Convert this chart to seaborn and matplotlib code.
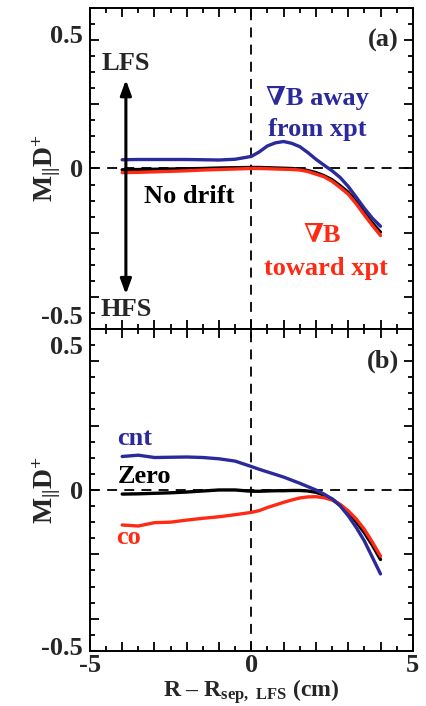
import numpy as np
import pandas as pd
import matplotlib
matplotlib.use("Agg")
import matplotlib.pyplot as plt
import matplotlib.transforms as mtransforms
import seaborn as sns
from matplotlib.ticker import MultipleLocator, FixedLocator, FixedFormatter

# ---------------- data ----------------
x_grid = [-4, -3.5, -3, -2.5, -2, -1.5, -1, -0.5, 0, 0.25, 0.5, 0.75, 1, 1.25, 1.5,
          1.75, 2, 2.25, 2.5, 2.75, 3, 3.25, 3.5, 3.75, 4]

# panel (a)
a_away = [0.034, 0.035, 0.035, 0.035, 0.035, 0.034, 0.033, 0.036, 0.047, 0.065, 0.088,
          0.1, 0.105, 0.098, 0.085, 0.062, 0.036, 0.013, -0.009, -0.035, -0.07, -0.112,
          -0.155, -0.194, -0.225]
a_nodrift = [-0.005, -0.004, -0.003, -0.002, -0.001, 0.0, 0.002, 0.003, 0.004, 0.004,
             0.003, 0.002, 0.001, 0.0, -0.003, -0.008, -0.016, -0.028, -0.044, -0.067,
             -0.093, -0.129, -0.173, -0.213, -0.248]
a_toward = [-0.016, -0.015, -0.013, -0.011, -0.009, -0.006, -0.004, -0.002, 0.0, 0.0,
            -0.001, -0.002, -0.003, -0.004, -0.006, -0.012, -0.022, -0.032, -0.05,
            -0.074, -0.1, -0.138, -0.181, -0.222, -0.261]

# panel (b)
b_cnt = [0.13, 0.135, 0.126, 0.127, 0.128, 0.126, 0.121, 0.112, 0.091, 0.08, 0.07,
         0.06, 0.05, 0.038, 0.026, 0.013, 0.0, -0.016, -0.035, -0.062, -0.1, -0.146,
         -0.198, -0.262, -0.326]
b_zero = [-0.016, -0.015, -0.013, -0.011, -0.008, -0.004, 0.0, 0.0, -0.005, -0.005,
          -0.004, -0.003, -0.003, -0.002, -0.002, -0.004, -0.009, -0.02, -0.035, -0.058,
          -0.087, -0.124, -0.166, -0.215, -0.27]
b_co = [-0.136, -0.14, -0.127, -0.125, -0.117, -0.11, -0.104, -0.096, -0.087, -0.08,
        -0.068, -0.058, -0.048, -0.039, -0.031, -0.027, -0.026, -0.03, -0.039, -0.056,
        -0.081, -0.113, -0.153, -0.203, -0.257]

y_ticks = [-0.5, -0.25, 0, 0.25, 0.5]
y_ticklabels = ["-0.5", "", "0", "", "0.5"]
x_ticks = [-5, -4, -3, -2, -1, 0, 1, 2, 3, 4, 5]
x_ticklabels = ["-5", "", "", "", "", "0", "", "", "", "", "5"]

BLUE = "#2b2a9c"
RED = "#ff2a14"
BLACK = "#000000"

# ---------------- style ----------------
sns.set_style("ticks")
plt.rcParams["font.family"] = ["Liberation Serif", "DejaVu Serif"]
plt.rcParams["font.weight"] = "bold"
plt.rcParams["mathtext.fontset"] = "custom"
plt.rcParams["mathtext.rm"] = "Liberation Serif:bold"
plt.rcParams["mathtext.bf"] = "Liberation Serif:bold"
plt.rcParams["mathtext.it"] = "Liberation Serif:bold"
plt.rcParams["mathtext.default"] = "bf"

FS = 19

fig = plt.figure(figsize=(4.26, 7.06), dpi=100)
ax1 = fig.add_axes([0.211, 0.534, 0.758, 0.4547])
ax2 = fig.add_axes([0.211, 0.078, 0.758, 0.456])


def style_axis(ax, off_top, off_bot):
    ax.set_xlim(-5, 5)
    ax.set_ylim(-0.625, 0.625)
    ax.xaxis.set_major_locator(FixedLocator(x_ticks))
    ax.xaxis.set_major_formatter(FixedFormatter(x_ticklabels))
    ax.xaxis.set_minor_locator(MultipleLocator(0.5))
    ax.yaxis.set_major_locator(FixedLocator(y_ticks))
    ax.yaxis.set_major_formatter(FixedFormatter(y_ticklabels))
    ax.yaxis.set_minor_locator(MultipleLocator(0.0625))
    ax.tick_params(which="both", direction="in", top=True, right=True, width=1.3,
                   labelsize=FS, color="black")
    ax.tick_params(which="major", length=6.5)
    ax.tick_params(which="minor", length=3.5)
    ax.tick_params(axis="y", which="major", pad=5)
    ax.tick_params(axis="x", which="major", pad=2.5)
    for s in ax.spines.values():
        s.set_linewidth(1.4)
        s.set_color("black")
    ax.axhline(0, color="black", lw=1.3, ls=(0, (5.5, 4)), zorder=1)
    ax.axvline(0, color="black", lw=1.3, ls=(0, (5.5, 4)), zorder=1)
    ax.set_ylabel(r"M$_{||}$D$^{+}$", fontsize=FS + 1, fontweight="bold")
    ax.yaxis.set_label_coords(-0.085, 0.5)
    labels = ax.get_yticklabels()
    labels[0].set_transform(labels[0].get_transform() +
                            mtransforms.ScaledTranslation(0, -off_bot / 100, fig.dpi_scale_trans))
    labels[-1].set_transform(labels[-1].get_transform() +
                             mtransforms.ScaledTranslation(0, off_top / 100, fig.dpi_scale_trans))


def draw(ax, y, color):
    df = pd.DataFrame({"x": x_grid, "y": y})
    sns.lineplot(data=df, x="x", y="y", ax=ax, color=color, lw=2.4, zorder=3)


# panel (a)
draw(ax1, a_nodrift, BLACK)
draw(ax1, a_toward, RED)
draw(ax1, a_away, BLUE)
style_axis(ax1, 6, 18)
ax1.set_xlabel("")
ax1.tick_params(axis="x", labelbottom=False)

ax1.annotate("", xy=(-3.885, 0.345), xytext=(-3.885, -0.49),
             arrowprops=dict(arrowstyle="<|-|>,head_length=0.9,head_width=0.33",
                             lw=2.2, color="black", shrinkA=0, shrinkB=0))
ax1.text(-3.885, 0.41, "LFS", ha="center", va="center", fontsize=FS, fontweight="bold")
ax1.text(-3.885, -0.55, "HFS", ha="center", va="center", fontsize=FS, fontweight="bold")
ax1.text(4.08, 0.5, "(a)", ha="center", va="center", fontsize=FS, fontweight="bold")
ax1.text(2.05, 0.275, "\u2207B away", ha="center", va="center", fontsize=FS,
         fontweight="bold", color=BLUE)
ax1.text(2.05, 0.15, "from xpt", ha="center", va="center", fontsize=FS,
         fontweight="bold", color=BLUE)
ax1.text(-1.93, -0.108, "No drift", ha="center", va="center", fontsize=FS,
         fontweight="bold", color=BLACK)
ax1.text(2.2, -0.26, "\u2207B", ha="center", va="center", fontsize=FS,
         fontweight="bold", color=RED)
ax1.text(2.3, -0.39, "toward xpt", ha="center", va="center", fontsize=FS,
         fontweight="bold", color=RED)

# panel (b)
draw(ax2, b_zero, BLACK)
draw(ax2, b_co, RED)
draw(ax2, b_cnt, BLUE)
style_axis(ax2, 16, 27)
ax2.set_xlabel("R \u2013 R$_{sep,\\ LFS}$ (cm)", fontsize=17, fontweight="bold")
ax2.xaxis.set_label_coords(0.5, -0.081)
ax2.text(4.08, 0.5, "(b)", ha="center", va="center", fontsize=FS, fontweight="bold")
ax2.text(-3.6, 0.2, "cnt", ha="center", va="center", fontsize=FS, fontweight="bold",
         color=BLUE)
ax2.text(-3.3, 0.053, "Zero", ha="center", va="center", fontsize=FS, fontweight="bold",
         color=BLACK)
ax2.text(-3.8, -0.185, "co", ha="center", va="center", fontsize=FS, fontweight="bold",
         color=RED)

fig.savefig("out.png", dpi=100)
